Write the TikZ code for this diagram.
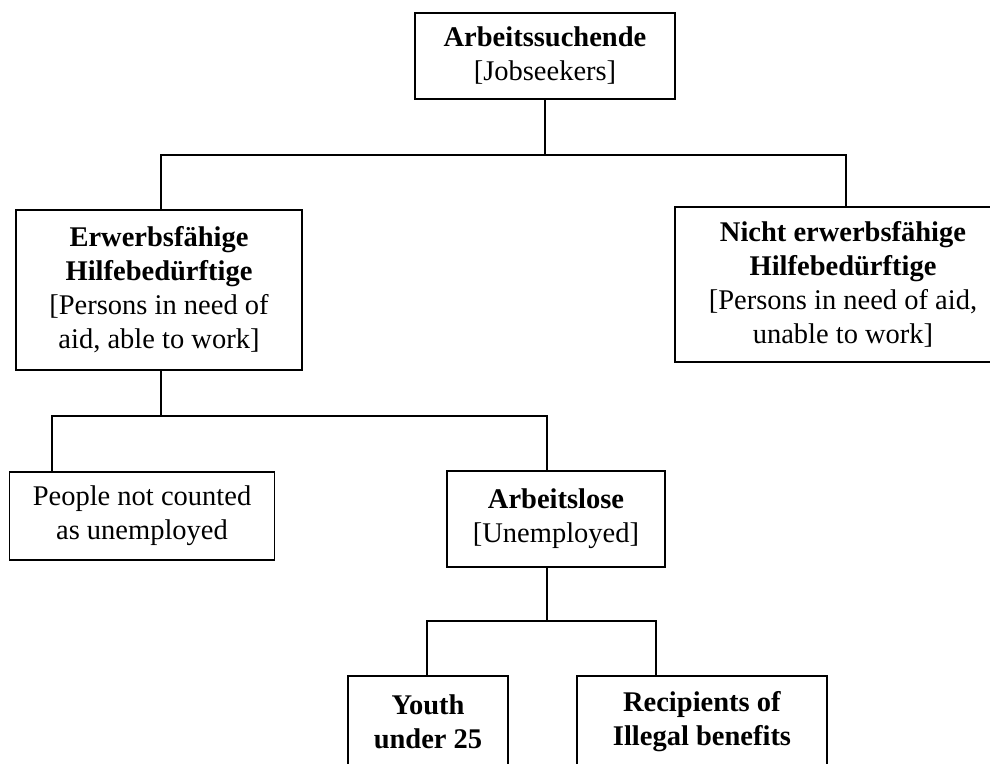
\documentclass[tikz,border=0pt]{standalone}
\usepackage{fontspec}
\setmainfont{Liberation Serif}
\usetikzlibrary{positioning}

\tikzset{
  box/.style={draw, line width=1.5pt, align=center, inner sep=4pt,
    font=\fontsize{28.5}{34}\selectfont},
  link/.style={line width=1.5pt}
}

\begin{document}
\begin{tikzpicture}[x=1pt,y=-1pt]
  \clip (0,0) rectangle (990,763);

  \node[box, minimum width=260pt, minimum height=86pt] (top) at (545,56)
    {\textbf{Arbeitssuchende}\\{[}Jobseekers{]}};
  \node[box, minimum width=286pt, minimum height=160pt] (erw) at (159,290)
    {\textbf{Erwerbsfähige}\\\textbf{Hilfebedürftige}\\{[}Persons in need of\\aid, able to work{]}};
  \node[box, minimum width=336pt, minimum height=155pt] (nicht) at (843,284.5)
    {\textbf{Nicht erwerbsfähige}\\\textbf{Hilfebedürftige}\\{[}Persons in need of aid,\\unable to work{]}};
  \node[box, minimum width=265pt, minimum height=88pt] (people) at (142,516)
    {People not counted\\as unemployed};
  \node[box, minimum width=218pt, minimum height=96pt] (alose) at (556,519)
    {\textbf{Arbeitslose}\\{[}Unemployed{]}};
  \node[box, minimum width=160pt, minimum height=92pt] (youth) at (428,722)
    {\textbf{Youth}\\\textbf{under 25}};
  \node[box, minimum width=250pt, minimum height=92pt] (recip) at (702,722)
    {\textbf{Recipients of}\\\textbf{Illegal benefits}};

  \coordinate (t1) at (545,155);
  \coordinate (l1) at (161,155);
  \coordinate (r1) at (846,155);
  \coordinate (t2) at (161,416);
  \coordinate (l2) at (52,416);
  \coordinate (r2) at (547,416);
  \coordinate (t3) at (547,621);
  \coordinate (l3) at (427,621);
  \coordinate (r3) at (656,621);

  \draw[link] (top.south -| t1) -- (t1);
  \draw[link] (erw.north -| l1) -- (l1) -- (r1) -- (nicht.north -| r1);
  \draw[link] (erw.south -| t2) -- (t2);
  \draw[link] (people.north -| l2) -- (l2) -- (r2) -- (alose.north -| r2);
  \draw[link] (alose.south -| t3) -- (t3);
  \draw[link] (youth.north -| l3) -- (l3) -- (r3) -- (recip.north -| r3);
\end{tikzpicture}
\end{document}
